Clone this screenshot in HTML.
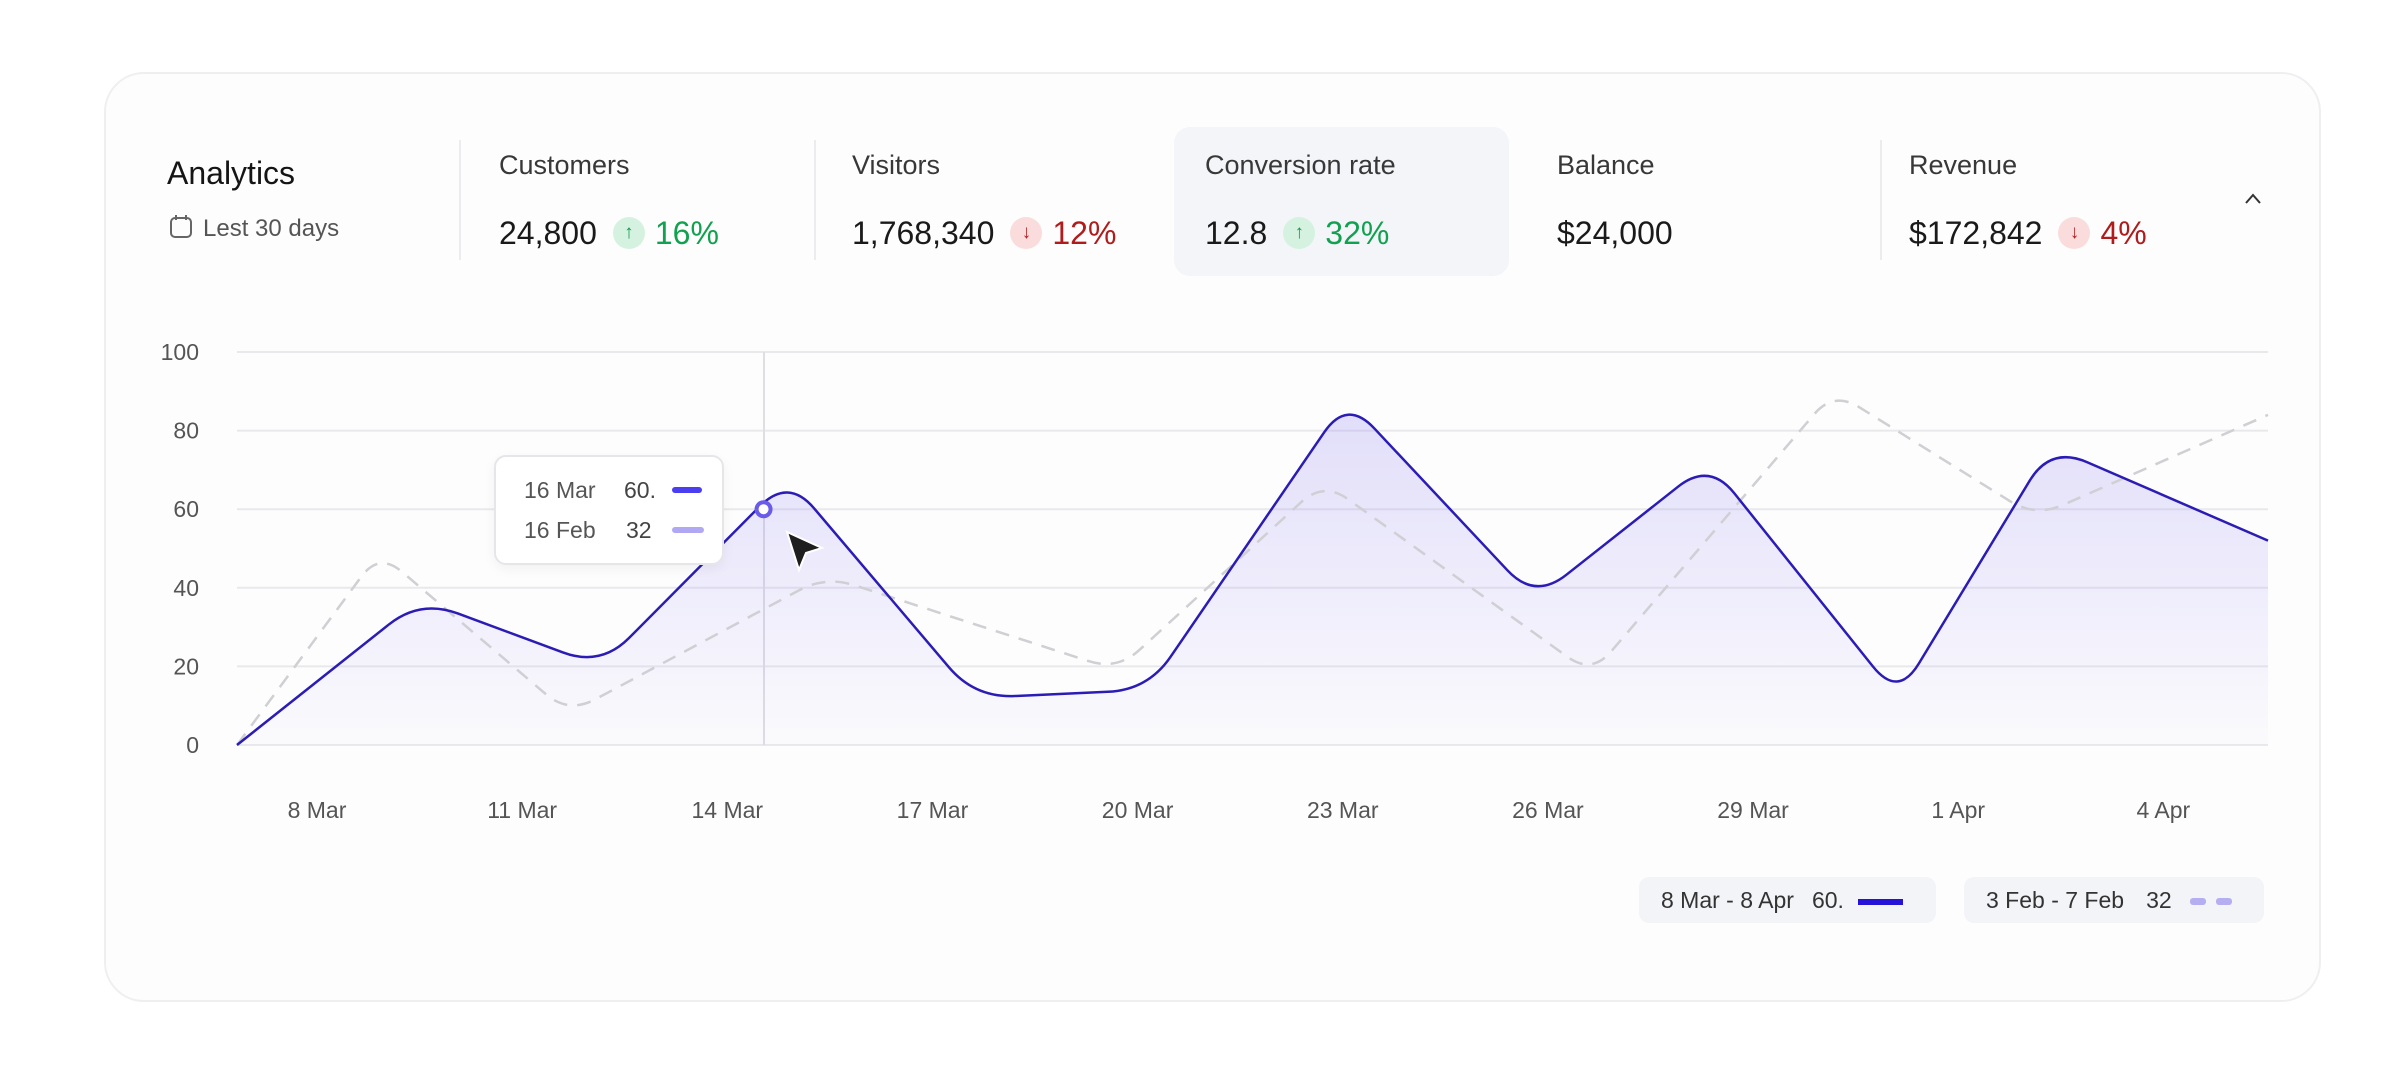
<!DOCTYPE html>
<html><head><meta charset="utf-8">
<style>
body{margin:0;width:2400px;height:1083px;background:#fff;font-family:"Liberation Sans",sans-serif;overflow:hidden;position:relative}
.card{position:absolute;left:104px;top:72px;width:2213px;height:926px;border:2px solid #efeff2;border-radius:40px;background:#fdfdfd}
.abs{position:absolute;white-space:nowrap}
.lbl{font-size:27px;color:#383838}
.val{font-size:32px;color:#1a1a1a}
.badge{display:inline-block;width:32px;height:32px;border-radius:50%;text-align:center;line-height:32px;font-size:19px;vertical-align:middle;margin:0 10px 0 16px;position:relative;top:-3px}
.up{background:#d5f2e0;color:#0f9b4b}.dn{background:#fbdcdc;color:#b51f1f}
.pg{color:#12a150}.pr{color:#b01c1c}
.div{position:absolute;width:2px;background:#ececef;top:140px;height:120px}
svg text{font-family:"Liberation Sans",sans-serif}
</style></head><body>
<div class="card"></div>
<div class="abs" style="left:1174px;top:127px;width:335px;height:149px;background:#f3f5f9;border-radius:16px"></div>
<div class="abs" style="left:167px;top:155px;font-size:32px;color:#151515">Analytics</div>
<div class="abs" style="left:169px;top:214px;font-size:24px;color:#555"><svg width="24" height="26" style="vertical-align:-4px;margin-right:10px"><rect x="2" y="4" width="20" height="19" rx="4" fill="none" stroke="#666" stroke-width="2"/><line x1="7" y1="1" x2="7" y2="6" stroke="#666" stroke-width="2"/><line x1="17" y1="1" x2="17" y2="6" stroke="#666" stroke-width="2"/></svg>Lest 30 days</div>
<div class="div" style="left:459px"></div>
<div class="div" style="left:814px"></div>
<div class="div" style="left:1880px"></div>

<div class="abs lbl" style="left:499px;top:150px">Customers</div>
<div class="abs val" style="left:499px;top:215px">24,800<span class="badge up">↑</span><span class="pg">16%</span></div>
<div class="abs lbl" style="left:852px;top:150px">Visitors</div>
<div class="abs val" style="left:852px;top:215px">1,768,340<span class="badge dn">↓</span><span class="pr">12%</span></div>
<div class="abs lbl" style="left:1205px;top:150px">Conversion rate</div>
<div class="abs val" style="left:1205px;top:215px">12.8<span class="badge up">↑</span><span class="pg">32%</span></div>
<div class="abs lbl" style="left:1557px;top:150px">Balance</div>
<div class="abs val" style="left:1557px;top:215px">$24,000</div>
<div class="abs lbl" style="left:1909px;top:150px">Revenue</div>
<div class="abs val" style="left:1909px;top:215px">$172,842<span class="badge dn">↓</span><span class="pr">4%</span></div>
<svg class="abs" style="left:2243px;top:192px" width="20" height="14"><polyline points="3,11 10,3 17,11" fill="none" stroke="#333" stroke-width="2"/></svg>

<svg id="chart" class="abs" style="left:0;top:0" width="2400" height="1083">
<defs><linearGradient id="g" x1="0" y1="0" x2="0" y2="1"><stop offset="0" stop-color="#8b7cf0" stop-opacity="0.24"/><stop offset="1" stop-color="#8b7cf0" stop-opacity="0.02"/></linearGradient></defs>
</svg>

<div class="abs" style="left:494px;top:455px;width:226px;height:106px;background:#fff;border:2px solid #e6e6ea;border-radius:12px;box-shadow:0 4px 12px rgba(0,0,0,0.05)">
<div class="abs" style="left:28px;top:20px;font-size:23px;color:#555">16 Mar</div><div class="abs" style="left:128px;top:20px;font-size:23px;color:#444">60.</div><div class="abs" style="left:176px;top:30px;width:30px;height:6px;border-radius:3px;background:#4b3df0"></div>
<div class="abs" style="left:28px;top:60px;font-size:23px;color:#555">16 Feb</div><div class="abs" style="left:130px;top:60px;font-size:23px;color:#444">32</div><div class="abs" style="left:176px;top:70px;width:32px;height:6px;border-radius:3px;background:#b0a8f2"></div>
</div>
<svg class="abs" style="left:782px;top:528px" width="46" height="46"><polygon points="5,4 40,20 24,25 17,42" fill="#1e1e1e" stroke="#fff" stroke-width="2"/></svg>

<div class="abs" style="left:1639px;top:877px;width:297px;height:46px;background:#f3f4f8;border-radius:10px;font-size:23px;color:#333;line-height:46px"><span style="margin-left:22px">8 Mar - 8 Apr</span><span style="margin-left:18px">60.</span><span style="display:inline-block;width:45px;height:6px;background:#2514d8;margin-left:14px;vertical-align:middle"></span></div>
<div class="abs" style="left:1964px;top:877px;width:300px;height:46px;background:#f3f4f8;border-radius:10px;font-size:23px;color:#333;line-height:46px"><span style="margin-left:22px">3 Feb - 7 Feb</span><span style="margin-left:22px">32</span><span style="display:inline-block;width:16px;height:7px;background:#b5aef0;margin-left:18px;vertical-align:middle;border-radius:3px"></span><span style="display:inline-block;width:16px;height:7px;background:#b5aef0;margin-left:10px;vertical-align:middle;border-radius:3px"></span></div>

<script>
const yTicks=[0,20,40,60,80,100];
const xTickDays=[0,3,6,9,12,15,18,21,24,27];
const xTickLabels=["8 Mar","11 Mar","14 Mar","17 Mar","20 Mar","23 Mar","26 Mar","29 Mar","1 Apr","4 Apr"];
const curDays=[-1.16,1.52,4.16,6.9,9.63,12.16,15.07,17.82,20.37,23.13,25.36,28.54];
const curVals=[0,37,20,68,12,14,88,37,72,12,76,52];
const prevDays=[-1.16,0.92,3.69,7.45,11.71,14.73,18.65,22.19,25.14,28.54];
const prevVals=[0,49,8,43,19,67,18,90,58,84];
const hoverDay=6.54, hoverVal=60;

const svg=document.getElementById('chart');const NS='http://www.w3.org/2000/svg';
const x0=237,x1=2268,y0=745,y1=352,dMin=-1.16,dMax=28.54;
const xs=d=>x0+(d-dMin)/(dMax-dMin)*(x1-x0);
const ys=v=>y0-v/100*(y0-y1);
function mk(t,a){const e=document.createElementNS(NS,t);for(const k in a)e.setAttribute(k,a[k]);svg.appendChild(e);return e;}
yTicks.forEach(v=>{
 const l=mk('line',{x1:x0,x2:x1,y1:ys(v),y2:ys(v),stroke:'#e9e9ec','stroke-width':2});
 
 
 const t=mk('text',{x:199,y:ys(v)+8,'text-anchor':'end','font-size':23,fill:'#555'});t.textContent=v;
 
 
});
xTickDays.forEach((d,i)=>{
 const t=mk('text',{x:317+(xs(d)-xs(0)),y:818,'text-anchor':'middle','font-size':23,fill:'#555'});
 t.textContent=xTickLabels[i];
 
 
});
function rounded(pts,r){
 let d=`M${pts[0][0]},${pts[0][1]}`;
 for(let i=1;i<pts.length-1;i++){
  const [px,py]=pts[i-1],[cx,cy]=pts[i],[nx,ny]=pts[i+1];
  const l1=Math.hypot(cx-px,cy-py),l2=Math.hypot(nx-cx,ny-cy);
  const rr=Math.min(r,l1/2,l2/2);
  const ax=cx+(px-cx)*rr/l1,ay=cy+(py-cy)*rr/l1,bx=cx+(nx-cx)*rr/l2,by=cy+(ny-cy)*rr/l2;
  d+=` L${ax},${ay} Q${cx},${cy} ${bx},${by}`;
 }
 const e=pts[pts.length-1];return d+` L${e[0]},${e[1]}`;
}
const hl=mk('line',{x1:764,x2:764,y1:y1,y2:y0,stroke:'#dedee3','stroke-width':2});


const cp=curDays.map((d,i)=>[xs(d),ys(curVals[i])]);
const pp=prevDays.map((d,i)=>[xs(d),ys(prevVals[i])]);
const area=mk('path',{d:rounded(cp,40)+` L${x1},${y0} L${x0},${y0} Z`,fill:'url(#g)'});


const prev=mk('path',{d:rounded(pp,30),fill:'none',stroke:'#cfcfd4','stroke-width':2.5,'stroke-dasharray':'14 10'});


const cur=mk('path',{d:rounded(cp,40),fill:'none',stroke:'#2a1cb5','stroke-width':2.5});


const pt=mk('circle',{cx:xs(hoverDay),cy:ys(hoverVal),r:7,fill:'#fff',stroke:'#6a5be8','stroke-width':4});


</script>
</body></html>
